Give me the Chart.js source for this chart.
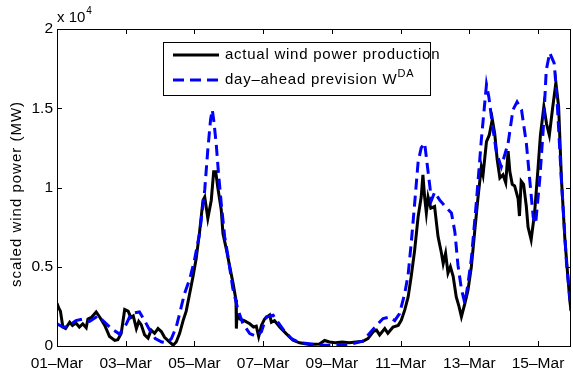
<!DOCTYPE html>
<html>
<head>
<meta charset="utf-8">
<script src="https://cdn.jsdelivr.net/npm/chart.js@4.4.1/dist/chart.umd.min.js"></script>
<style>
  html, body { margin: 0; padding: 0; background: #fff; }
  #wrap { width: 573px; height: 371px; position: relative; }
</style>
</head>
<body>
<div id="wrap"><canvas id="c" width="573" height="371"></canvas></div>
<script>
// ---- data (x in days since 01-Mar 00:00, y in MW) ----
const actualDays = [0.00,0.05,0.10,0.17,0.25,0.37,0.45,0.55,0.65,0.75,0.85,0.90,1.00,1.14,1.25,1.39,1.53,1.68,1.77,1.87,1.97,2.07,2.15,2.22,2.31,2.38,2.45,2.55,2.65,2.74,2.84,2.94,3.04,3.13,3.28,3.38,3.47,3.57,3.67,3.76,3.86,3.96,4.05,4.15,4.25,4.30,4.39,4.49,4.56,4.62,4.68,4.78,4.83,4.93,5.02,5.12,5.21,5.22,5.24,5.32,5.45,5.61,5.72,5.80,5.87,5.95,6.04,6.09,6.19,6.24,6.33,6.48,6.67,6.87,7.06,7.35,7.64,7.79,7.93,8.10,8.30,8.50,8.70,8.90,9.05,9.20,9.30,9.39,9.54,9.63,9.78,9.93,10.02,10.12,10.22,10.31,10.41,10.51,10.60,10.65,10.70,10.75,10.80,10.88,10.99,11.09,11.19,11.24,11.31,11.38,11.45,11.53,11.62,11.70,11.77,11.87,11.96,12.06,12.16,12.25,12.35,12.40,12.50,12.58,12.67,12.74,12.81,12.89,12.98,13.06,13.13,13.18,13.25,13.32,13.42,13.46,13.51,13.58,13.66,13.71,13.80,13.90,14.00,14.07,14.17,14.25,14.33,14.43,14.52,14.60,14.68,14.78,14.86,14.92,14.96];
const actualMW = [2700,2400,2200,1200,1100,1500,1300,1450,1200,1400,1150,1700,1800,2150,1800,1300,600,350,400,800,2300,2200,1800,1900,1100,1550,1350,700,500,1000,800,1100,900,550,250,50,250,800,1600,2200,3300,4400,5500,7200,9200,9400,8050,9200,11000,11000,10000,8600,7100,6100,5100,4000,2900,1100,2000,1700,1600,1400,1200,1250,600,1300,1700,1800,1950,1500,1600,1200,780,360,200,100,120,350,250,200,250,200,250,300,470,900,1000,700,1100,800,1200,1300,1620,2260,3100,4400,6050,8150,9400,10800,9400,8400,9400,8700,8800,6900,5850,5200,5850,4600,5000,4400,3100,2500,1850,2680,3500,5000,7300,9300,11300,10800,12900,13300,14300,13400,11800,10600,10800,10300,12300,11000,10200,10100,9300,8200,10400,10200,8800,7500,6700,8400,11200,13300,15100,14000,13300,15100,16600,15100,10600,6800,4600,3000,2200];

const forecastDays = [0.00,0.17,0.30,0.55,0.75,0.95,1.19,1.39,1.58,1.82,2.02,2.16,2.40,2.55,2.70,2.86,3.05,3.20,3.33,3.47,3.57,3.71,3.86,4.00,4.15,4.30,4.39,4.47,4.52,4.57,4.64,4.70,4.78,4.88,4.98,5.12,5.27,5.41,5.61,5.80,5.95,6.09,6.29,6.43,6.63,6.82,7.06,7.35,7.64,7.93,8.20,8.50,8.90,9.10,9.30,9.49,9.68,9.83,9.97,10.12,10.22,10.31,10.41,10.51,10.60,10.70,10.80,10.90,10.99,11.14,11.30,11.48,11.58,11.67,11.77,11.87,11.96,12.06,12.21,12.35,12.50,12.57,12.67,12.79,12.93,13.13,13.27,13.39,13.52,13.66,13.78,13.86,13.93,14.05,14.15,14.24,14.34,14.47,14.55,14.68,14.83,14.96];
const forecastMW = [1400,1200,1200,1600,1700,1550,1900,1500,1100,750,1400,2050,2150,1600,1000,470,250,200,470,1200,2050,3300,4200,5400,7100,9850,12400,14300,14900,14100,12600,10900,9000,6900,5600,3600,2260,1420,780,600,900,1830,1940,1500,900,470,200,150,50,50,100,100,300,800,1300,1730,1830,1600,2050,3300,4500,6500,9000,11600,12500,12800,11000,9200,9700,9200,8800,8400,7200,5100,3600,2700,3900,5500,9200,13000,16500,15700,14000,12200,11300,12800,14900,15400,14900,12800,10000,8150,7700,10500,13600,17400,18500,17850,15700,10500,5200,2300];

const xTickDays = [0,2,4,6,8,10,12,14];
const xTickLabels = ['01\u2013Mar','03\u2013Mar','05\u2013Mar','07\u2013Mar','09\u2013Mar','11\u2013Mar','13\u2013Mar','15\u2013Mar'];
const yTickValues = [0,5000,10000,15000,20000];
const yTickLabels = ['0','0.5','1','1.5','2'];
const seriesNames = ['actual wind power production','day\u2013ahead prevision W'];
const seriesSup = ['', 'DA'];
const yAxisTitle = 'scaled wind power (MW)';

const FONT = '"Liberation Sans", Arial, Helvetica, sans-serif';
const FS = 15;

const toPts = (xs, ys) => xs.map((x, i) => ({x: x, y: ys[i]}));

const boxPlugin = {
  id: 'matlabBox',
  afterDatasetsDraw(chart) {
    const {ctx, chartArea: a, scales} = chart;
    const xs = scales.x, ys = scales.y;
    ctx.save();
    ctx.strokeStyle = '#000';
    ctx.lineWidth = 1;
    const tl = 5;
    ctx.beginPath();
    xTickDays.forEach(d => {
      const px = Math.round(xs.getPixelForValue(d)) + 0.5;
      ctx.moveTo(px, a.bottom); ctx.lineTo(px, a.bottom - tl);
      ctx.moveTo(px, a.top); ctx.lineTo(px, a.top + tl);
    });
    yTickValues.forEach(v => {
      const py = Math.round(ys.getPixelForValue(v)) + 0.5;
      ctx.moveTo(a.left, py); ctx.lineTo(a.left + tl, py);
      ctx.moveTo(a.right, py); ctx.lineTo(a.right - tl, py);
    });
    ctx.stroke();
    ctx.strokeRect(Math.round(a.left) + 0.5, Math.round(a.top) + 0.5,
                   Math.round(a.right - a.left) - 1, Math.round(a.bottom - a.top));
    ctx.restore();
  },
  afterDraw(chart) {
    const {ctx, chartArea: a} = chart;
    ctx.save();
    ctx.fillStyle = '#000';
    // exponent label
    ctx.font = FS + 'px ' + FONT;
    ctx.textBaseline = 'alphabetic';
    ctx.textAlign = 'left';
    ctx.fillText('x 10', a.left, 22);
    const w10 = ctx.measureText('x 10').width;
    ctx.font = '10px ' + FONT;
    ctx.fillText('4', a.left + w10 + 1, 14);
    // y axis title
    ctx.font = FS + 'px ' + FONT;
    ctx.save();
    ctx.letterSpacing = '1px';
    ctx.translate(17, 194);
    ctx.rotate(-Math.PI / 2);
    ctx.textAlign = 'center';
    ctx.textBaseline = 'middle';
    ctx.fillText(yAxisTitle, 0, 0);
    ctx.restore();
    // legend
    const L = 163, T = 42, R = 430, B = 95;
    ctx.fillStyle = '#fff';
    ctx.fillRect(L, T, R - L, B - T);
    ctx.strokeStyle = '#000';
    ctx.lineWidth = 1;
    ctx.strokeRect(L + 0.5, T + 0.5, R - L, B - T);
    const rows = [55, 80];
    const styles = [{c: '#000', dash: []}, {c: '#0000ff', dash: [11, 6]}];
    rows.forEach((yy, i) => {
      ctx.beginPath();
      ctx.setLineDash(styles[i].dash);
      ctx.strokeStyle = styles[i].c;
      ctx.lineWidth = 3;
      ctx.moveTo(173, yy); ctx.lineTo(219, yy);
      ctx.stroke();
      ctx.setLineDash([]);
      ctx.fillStyle = '#000';
      ctx.font = FS + 'px ' + FONT;
      ctx.letterSpacing = '0.75px';
      ctx.textAlign = 'left';
      ctx.textBaseline = 'middle';
      ctx.fillText(seriesNames[i], 225, yy);
      if (seriesSup[i]) {
        const w = ctx.measureText(seriesNames[i]).width;
        ctx.font = '11px ' + FONT;
        ctx.fillText(seriesSup[i], 225 + w, yy - 6);
      }
      ctx.letterSpacing = '0px';
    });
    ctx.restore();
  }
};

new Chart(document.getElementById('c'), {
  type: 'line',
  data: {
    datasets: [
      {
        label: seriesNames[0],
        data: toPts(actualDays, actualMW),
        borderColor: '#000000',
        borderWidth: 3,
        pointRadius: 0,
        tension: 0,
        fill: false,
        order: 2
      },
      {
        label: seriesNames[1] + seriesSup[1],
        data: toPts(forecastDays, forecastMW),
        borderColor: '#0000ff',
        borderWidth: 3,
        borderDash: [11, 6],
        pointRadius: 0,
        tension: 0,
        fill: false,
        order: 1
      }
    ]
  },
  options: {
    responsive: false,
    animation: false,
    devicePixelRatio: 1,
    layout: { padding: { top: 29, right: 2, left: 0, bottom: 0 } },
    plugins: { legend: { display: false }, tooltip: { enabled: false }, title: { display: false } },
    scales: {
      x: {
        type: 'linear',
        min: 0,
        max: 14.96,
        grid: { display: false, drawTicks: false },
        border: { display: false },
        afterFit(s) { s.height = 25; },
        afterBuildTicks(s) { s.ticks = xTickDays.map(v => ({value: v})); },
        ticks: {
          autoSkip: false,
          maxRotation: 0,
          padding: 8,
          color: '#000',
          font: { family: FONT, size: 15.5 },
          callback: (v) => { const i = xTickDays.indexOf(v); return i >= 0 ? xTickLabels[i] : ''; }
        }
      },
      y: {
        min: 0,
        max: 20000,
        grid: { display: false, drawTicks: false },
        border: { display: false },
        afterFit(s) { s.width = 57; },
        afterBuildTicks(s) { s.ticks = yTickValues.map(v => ({value: v})); },
        ticks: {
          padding: 4,
          color: '#000',
          font: { family: FONT, size: 15.5 },
          callback: (v) => { const i = yTickValues.indexOf(v); return i >= 0 ? yTickLabels[i] : ''; }
        }
      }
    }
  },
  plugins: [boxPlugin]
});
</script>
</body>
</html>
